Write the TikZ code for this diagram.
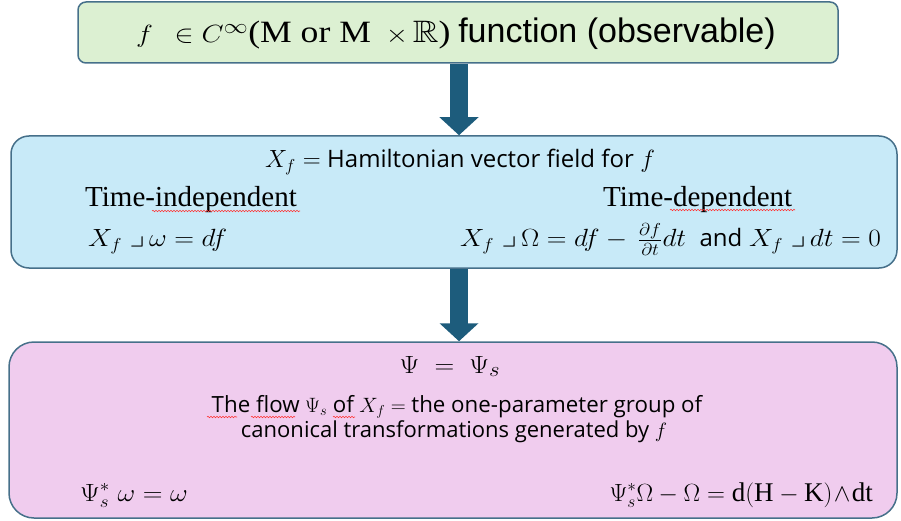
\documentclass[tikz,border=0pt]{standalone}
\usepackage{amssymb}
\usepackage{graphicx}
\usepackage{fontspec}
\setmainfont{Liberation Serif}
\newfontfamily\sfa{Open Sans}
\newfontfamily\sfn{Liberation Sans}
\usetikzlibrary{arrows.meta,decorations.pathmorphing}
\definecolor{bord}{HTML}{46708A}
\definecolor{gfill}{HTML}{DCF0D2}
\definecolor{bfill}{HTML}{C8EAF8}
\definecolor{pfill}{HTML}{F0CCEE}
\definecolor{arrc}{HTML}{1D5C7C}
\newcommand{\wide}[1]{\scalebox{1.1}[1]{#1}}
\tikzset{
  box/.style={draw=bord, line width=1.5pt, inner sep=0pt},
  blockarrow/.style={draw=arrc, line width=18pt, -{Triangle[width=38pt,length=18pt]}},
  txt/.style={inner sep=0pt, text=black},
  spell/.style={red!80, line width=0.6pt, decorate, decoration={snake, amplitude=0.7pt, segment length=3pt}}
}
\begin{document}
\begin{tikzpicture}[x=1pt,y=-1pt]
\useasboundingbox (0,0) rectangle (901,521);
\node[box, fill=gfill, rounded corners=8pt, minimum width=760pt, minimum height=61pt] (top) at (458,32.5) {};
\node[box, fill=bfill, rounded corners=18pt, minimum width=886pt, minimum height=132pt] (mid) at (454,202) {};
\node[box, fill=pfill, rounded corners=25pt, minimum width=888pt, minimum height=176pt] (bot) at (453,430) {};
\draw[blockarrow] (top.south -| 459,0) -- (mid.north -| 459,0);
\draw[blockarrow] (mid.south -| 459,0) -- (bot.north -| 459,0);
% top text
\node[txt, font=\fontsize{31}{36}\selectfont, anchor=base] (t1) at (456,43) {\scalebox{1.15}[1]{$f\ \,\in C^{\infty}$(M or M\ \,$\times\,\mathbb{R}$)}\ {\sfn\fontsize{34}{38}\selectfont function (observable)}};
% middle
\node[txt, font=\fontsize{26}{30}\selectfont, anchor=base] (m1) at (460,168) {$X_f =$\ {\sfa\fontsize{24}{28}\selectfont Hamiltonian vector field for} $f$};
\node[txt, font=\fontsize{29}{34}\selectfont, anchor=base west] (m2) at (85,207) {Time-independent};
\node[txt, font=\fontsize{29}{34}\selectfont, anchor=base west] (m3) at (603,207) {Time-dependent};
\node[txt, font=\fontsize{27}{32}\selectfont, anchor=base west] (m4) at (88,247) {\wide{$X_f\ \lrcorner\,\omega = df$}};
\node[txt, font=\fontsize{27}{32}\selectfont, anchor=base west] (m5) at (460,247) {\wide{$X_f\ \lrcorner\,\Omega = df - \,\frac{\partial f}{\partial t}dt$}\ \ {\sfa\fontsize{24}{28}\selectfont and} \wide{$X_f\ \lrcorner\, dt = 0$}};
% bottom
\node[txt, font=\fontsize{28}{32}\selectfont, anchor=base] (b1) at (450,373) {\wide{$\Psi \;=\; \Psi_s$}};
\node[txt, font=\fontsize{22.3}{26}\selectfont, anchor=base] (b2) at (457,412) {{\sfa The flow} $\Psi_s$ {\sfa of} $X_f$ $=$ {\sfa the one-parameter group of}};
\node[txt, font=\fontsize{22}{26}\selectfont, anchor=base] (b3) at (454,437) {{\sfa canonical transformations generated by} $f$};
\node[txt, font=\fontsize{27}{32}\selectfont, anchor=base west] (b4) at (80,501) {\wide{$\Psi_s^{*}\;\omega = \omega$}};
\node[txt, font=\fontsize{27}{32}\selectfont, anchor=base east] (b5) at (873,501) {$\Psi_s^{*}\Omega - \Omega = \mathrm{d(H-K)}\!\wedge\!\mathrm{dt}$};
% spell-check underlines
\draw[spell] (152,211) -- (300,211);
\draw[spell] (670,210) -- (795,210);
\draw[spell] (207,417) -- (237,417);
\draw[spell] (251,417) -- (295,417);
\draw[spell] (333,417) -- (355,417);
\end{tikzpicture}
\end{document}
